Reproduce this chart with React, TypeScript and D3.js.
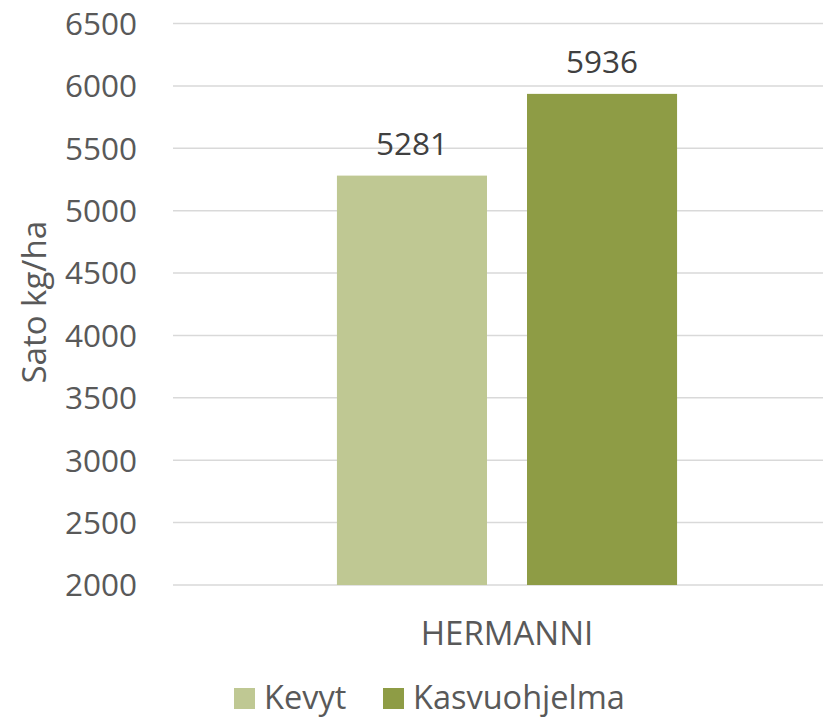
import React from "react";
import * as d3 from "d3";

const categories = ["HERMANNI"];
const seriesNames = ["Kevyt", "Kasvuohjelma"];
const kevytValues = [5281];
const kasvuohjelmaValues = [5936];
const yTicks = [2000, 2500, 3000, 3500, 4000, 4500, 5000, 5500, 6000, 6500];
const colors = ["#BFC893", "#8E9C45"];

const W = 823;
const H = 718;
const FONT = "'Open Sans', sans-serif";
const TEXT = "#595959";

export default function App() {
  const left = 173;
  const right = 841;
  const top = 23.5;
  const bottom = 585;
  const y = d3.scaleLinear().domain([2000, 6500]).range([bottom, top]);
  const x0 = d3.scaleBand<string>().domain(categories).range([left, right]).paddingInner(0).paddingOuter(0.482);
  const x1 = d3.scaleBand<string>().domain(seriesNames).range([0, x0.bandwidth()]).paddingInner(40 / 190).paddingOuter(0);
  const seriesValues = [kevytValues, kasvuohjelmaValues];

  return (
    <svg width={W} height={H} style={{ position: "absolute", left: 0, top: 0, background: "#fff" }}>
      {yTicks.map((t) => (
        <g key={t}>
          <line x1={left} x2={right} y1={y(t)} y2={y(t)} stroke="#D9D9D9" strokeWidth={1.5} />
          <text x={137} y={y(t)} dy="0.36em" textAnchor="end" fontFamily={FONT} fontSize={31.5} fill={TEXT}>
            {t}
          </text>
        </g>
      ))}
      {categories.map((c, ci) => (
        <g key={c}>
          {seriesNames.map((s, si) => {
            const v = seriesValues[si][ci];
            const bx = (x0(c) ?? 0) + (x1(s) ?? 0);
            return (
              <g key={s}>
                <rect x={bx} y={y(v)} width={x1.bandwidth()} height={y(2000) - y(v)} fill={colors[si]} />
                <text x={bx + x1.bandwidth() / 2} y={y(v) - 21} textAnchor="middle" fontFamily={FONT} fontSize={31.5} fill="#404040">
                  {v}
                </text>
              </g>
            );
          })}
          <text x={(x0(c) ?? 0) + x0.bandwidth() / 2} y={645} textAnchor="middle" fontFamily={FONT} fontSize={33} fill={TEXT}>
            {c}
          </text>
        </g>
      ))}
      <text transform={`translate(46, ${y(4250) - 2}) rotate(-90)`} textAnchor="middle" fontFamily={FONT} fontSize={33} fill={TEXT}>
        Sato kg/ha
      </text>
      {seriesNames.map((s, si) => {
        const lx = si === 0 ? 234 : 383;
        return (
          <g key={s}>
            <rect x={lx} y={688} width={21} height={21} fill={colors[si]} />
            <text x={lx + 30} y={709} fontFamily={FONT} fontSize={32.5} fill={TEXT}>
              {s}
            </text>
          </g>
        );
      })}
    </svg>
  );
}
